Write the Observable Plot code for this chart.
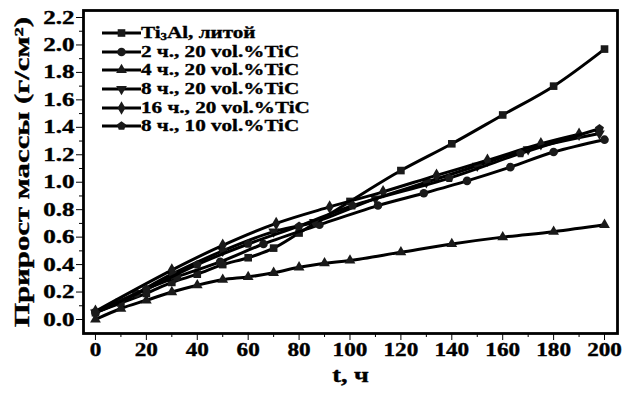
<!DOCTYPE html>
<html><head><meta charset="utf-8">
<script src="https://cdn.jsdelivr.net/npm/d3@7"></script>
<script src="https://cdn.jsdelivr.net/npm/@observablehq/plot@0.6"></script>
<style>
body{margin:0;background:#fff;}
#wrap{position:relative;width:627px;height:394px;font-family:"Liberation Serif","Times New Roman",serif;}
#legend{position:absolute;left:102px;top:24px;font-weight:bold;font-size:16.5px;color:#000;}
.row{height:18.6px;display:flex;align-items:center;white-space:nowrap;}
.row svg{flex:none;}
.row span{display:inline-block;transform:scaleX(1.28);transform-origin:left center;-webkit-text-stroke:0.35px #000;}
sub{font-size:10px;vertical-align:-2px;line-height:0;}
</style></head>
<body><div id="wrap"><div id="chart"></div><div id="legend"></div></div>
<script>
// Series data (t in hours, mass gain in g/cm^2)
const tTi3Al = [0,10,20,30,40,50,60,70,80,100,120,140,160,180,200];
const vTi3Al = [0.05,0.12,0.19,0.27,0.33,0.40,0.45,0.52,0.63,0.86,1.085,1.28,1.49,1.70,1.97];
const t2h = [0,16,32,49,66,88,111,129,146,163,180,200];
const v2h = [0.05,0.19,0.31,0.42,0.55,0.69,0.83,0.92,1.01,1.11,1.22,1.31];
const t4h = [0,10,20,30,40,50,60,70,80,90,100,120,140,160,180,200];
const v4h = [0.0,0.08,0.14,0.20,0.25,0.29,0.31,0.34,0.38,0.41,0.43,0.49,0.55,0.60,0.64,0.69];
const t8h = [0,10,30,50,70,86,110,130,150,170,198];
const v8h = [0.05,0.13,0.33,0.50,0.64,0.71,0.88,1.00,1.12,1.24,1.355];
const t16h = [0,30,50,71,92,113,134,154,175,190];
const v16h = [0.06,0.36,0.54,0.70,0.82,0.93,1.05,1.16,1.28,1.35];
const t8h10 = [0,20,40,60,80,101,139,167,198];
const v8h10 = [0.05,0.22,0.40,0.55,0.68,0.83,1.03,1.21,1.39];

const seriesNames = ["Ti3Al, литой","2 ч., 20 vol.%TiC","4 ч., 20 vol.%TiC","8 ч., 20 vol.%TiC","16 ч., 20 vol.%TiC","8 ч., 10 vol.%TiC"];
const xTicks = [0,20,40,60,80,100,120,140,160,180,200];
const xMinor = [10,30,50,70,90,110,130,150,170,190];
const yTicks = [0,0.2,0.4,0.6,0.8,1.0,1.2,1.4,1.6,1.8,2.0,2.2];
const yMinor = [0.1,0.3,0.5,0.7,0.9,1.1,1.3,1.5,1.7,1.9,2.1];

const triDown = {draw(ctx, size){
  const s = Math.sqrt(size*4/Math.sqrt(3));
  const h = s*Math.sqrt(3)/2;
  ctx.moveTo(-s/2,-h/3); ctx.lineTo(s/2,-h/3); ctx.lineTo(0,2*h/3); ctx.closePath();
}};
const pentagon = {draw(ctx, size){
  const r = Math.sqrt(size/2.378);
  for(let k=0;k<5;k++){const a=-Math.PI/2+k*2*Math.PI/5; const x=r*Math.cos(a), y=r*Math.sin(a); k?ctx.lineTo(x,y):ctx.moveTo(x,y);}
  ctx.closePath();
}};

const symbols = [d3.symbolSquare, d3.symbolCircle, d3.symbolTriangle, triDown, d3.symbolDiamond, pentagon];
const radii = [4.3, 4.3, 4.0, 4.0, 4.1, 4.1];
const ts = [tTi3Al,t2h,t4h,t8h,t16h,t8h10];
const vs = [vTi3Al,v2h,v4h,v8h,v16h,v8h10];

const marks = [];
ts.forEach((t,i)=>{
  const data = t.map((x,j)=>({t:x, v:vs[i][j]}));
  marks.push(Plot.line(data,{x:"t",y:"v",stroke:"#000",strokeWidth:3,curve:"catmull-rom"}));
  marks.push(Plot.dot(data,{x:"t",y:"v",fill:"#1a1a1a",stroke:"none",symbol:symbols[i],r:radii[i]}));
});

const fam = "Liberation Serif, Times New Roman, serif";

const chart = Plot.plot({
  width:627, height:394,
  marginLeft:83, marginRight:10, marginTop:10, marginBottom:61,
  style:{fontFamily:fam, fontWeight:"bold", fontSize:"19px", color:"#000", background:"#fff"},
  x:{domain:[-4.7,205.1]},
  y:{domain:[-0.102,2.251]},
  marks:[
    Plot.axisX({ticks:xTicks, tickSize:7, tickWidth:2.4, tickPadding:2, fontSize:19, label:"t, ч", labelAnchor:"center", labelArrow:"none", labelOffset:48}),
    Plot.axisX({ticks:xMinor, tickSize:4, tickWidth:2.4, tickFormat:()=>"", label:null}),
    Plot.axisY({ticks:yTicks, tickSize:7, tickWidth:2.4, tickPadding:2, fontSize:19, tickFormat:d3.format(".1f"), label:"Прирост массы (г/см²)", labelAnchor:"center", labelArrow:"none", labelOffset:70}),
    Plot.axisY({ticks:yMinor, tickSize:4, tickWidth:2.4, tickFormat:()=>"", label:null}),
    ...marks,
    Plot.frame({stroke:"#000", strokeWidth:2.8})
  ]
});
document.getElementById("chart").appendChild(chart);

function stretch(sel, sx, size){
  chart.querySelectorAll(sel).forEach(t=>{
    const tr = t.getAttribute("transform") || "";
    t.setAttribute("transform", tr + ` scale(${sx},1)`);
    if(size) t.style.fontSize = size;
    t.style.stroke = "#000"; t.style.strokeWidth = "0.4px";
  });
}
stretch("g[aria-label='x-axis tick label'] text", 1.22);
stretch("g[aria-label='y-axis tick label'] text", 1.32);
stretch("g[aria-label='x-axis label'] text", 1.25, "21px");
stretch("g[aria-label='y-axis label'] text", 1.4, "22px");

// legend
const leg = document.getElementById("legend");
seriesNames.forEach((name,i)=>{
  const row = document.createElement("div"); row.className="row";
  const path = d3.symbol(symbols[i], radii[i]*radii[i]*Math.PI)();
  row.innerHTML = `<svg width="39" height="16"><line x1="0" x2="39" y1="8" y2="8" stroke="#000" stroke-width="3"/><path d="${path}" transform="translate(19.5,8)" fill="#1a1a1a"/></svg>`;
  const span = document.createElement("span");
  span.innerHTML = i===0 ? "Ti<sub>3</sub>Al, литой" : name;
  row.appendChild(span);
  leg.appendChild(row);
});
</script></body></html>
